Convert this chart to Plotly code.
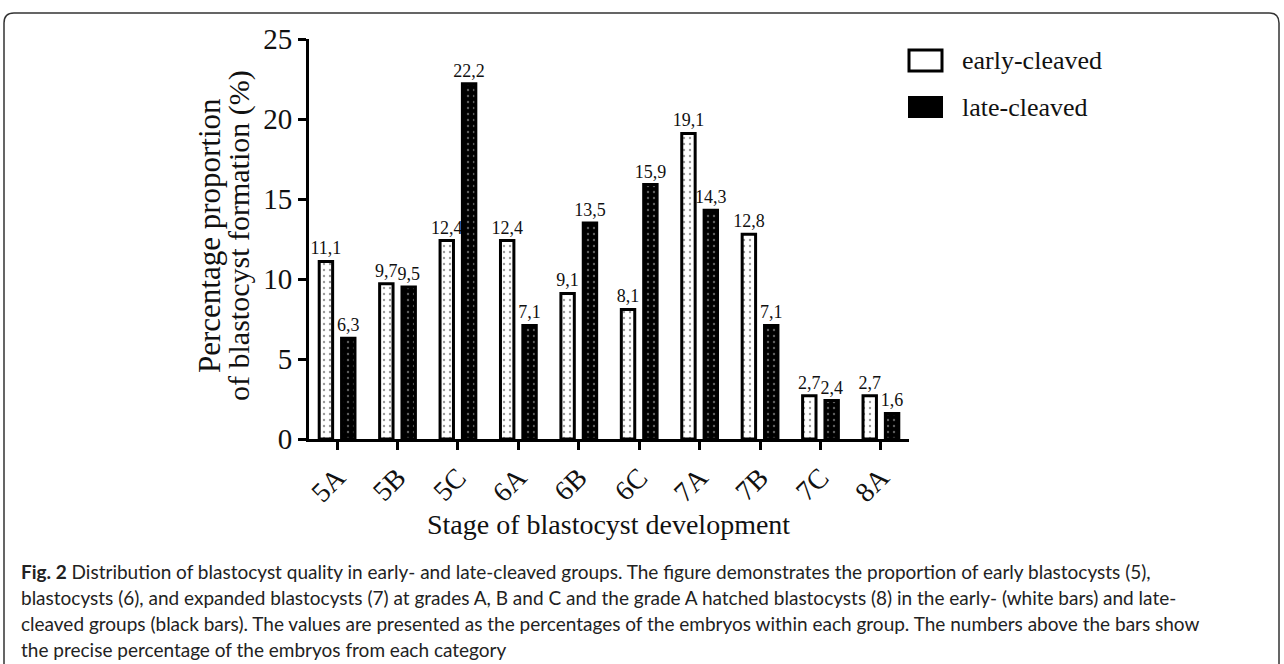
import plotly.graph_objects as go

# ---- data ----
categories = ["5A", "5B", "5C", "6A", "6B", "6C", "7A", "7B", "7C", "8A"]
early_cleaved = [11.1, 9.7, 12.4, 12.4, 9.1, 8.1, 19.1, 12.8, 2.7, 2.7]
late_cleaved = [6.3, 9.5, 22.2, 7.1, 13.5, 15.9, 14.3, 7.1, 2.4, 1.6]
series_names = ["early-cleaved", "late-cleaved"]
y_ticks = [0, 5, 10, 15, 20, 25]
x_title = "Stage of blastocyst development"
y_title_lines = ["Percentage proportion", "of blastocyst formation (%)"]
caption_lines = [
    "<b>Fig. 2</b> Distribution of blastocyst quality in early- and late-cleaved groups. The figure demonstrates the proportion of early blastocysts (5),",
    "blastocysts (6), and expanded blastocysts (7) at grades A, B and C and the grade A hatched blastocysts (8) in the early- (white bars) and late-",
    "cleaved groups (black bars). The values are presented as the percentages of the embryos within each group. The numbers above the bars show",
    "the precise percentage of the embryos from each category",
]

# ---- layout geometry (pixels) ----
W, H = 1284, 664
L, RGT, T, B = 309, 909, 39, 439


def xp(px):
    return (px - L) / (RGT - L)


def yp(py):
    return (B - py) / (B - T)


SERIF = "Liberation Serif, Times New Roman, serif"
SANS = "Lato, Open Sans, sans-serif"

fig = go.Figure()
fig.add_bar(
    x=categories, y=early_cleaved, name=series_names[0],
    marker=dict(color="white", line=dict(color="black", width=3),
                pattern=dict(shape=".", fgcolor="#333", bgcolor="white", size=6, solidity=0.12)),
    texttemplate="%{y:.1f}", textposition="outside", constraintext="none", cliponaxis=False,
    textfont=dict(family=SERIF, size=18, color="#111"),
)
fig.add_bar(
    x=categories, y=late_cleaved, name=series_names[1],
    marker=dict(color="black", line=dict(color="black", width=3),
                pattern=dict(shape=".", fgcolor="#bbb", bgcolor="black", size=6, solidity=0.12)),
    texttemplate="%{y:.1f}", textposition="outside", constraintext="none", cliponaxis=False,
    textfont=dict(family=SERIF, size=18, color="#111"),
)

annotations = []
# y title (two tight lines)
annotations.append(dict(text=y_title_lines[0], textangle=-90, x=xp(209), y=yp(236), xref="paper", yref="paper",
                        xanchor="center", yanchor="middle", showarrow=False,
                        font=dict(family=SERIF, size=31, color="#111")))
annotations.append(dict(text=y_title_lines[1], textangle=-90, x=xp(239), y=yp(236), xref="paper", yref="paper",
                        xanchor="center", yanchor="middle", showarrow=False,
                        font=dict(family=SERIF, size=30, color="#111")))
# x title
annotations.append(dict(text=x_title, x=xp(608), y=yp(524), xref="paper", yref="paper",
                        xanchor="center", yanchor="middle", showarrow=False,
                        font=dict(family=SERIF, size=28, color="#111")))
# legend text
annotations.append(dict(text=series_names[0], x=xp(960), y=yp(60), xref="paper", yref="paper",
                        xanchor="left", yanchor="middle", showarrow=False,
                        font=dict(family=SERIF, size=26, color="#111")))
annotations.append(dict(text=series_names[1], x=xp(960), y=yp(107), xref="paper", yref="paper",
                        xanchor="left", yanchor="middle", showarrow=False,
                        font=dict(family=SERIF, size=26, color="#111")))
# caption
cap_y = [571, 597, 623, 649]
for line, cy in zip(caption_lines, cap_y):
    annotations.append(dict(text=line, x=xp(19), y=yp(cy), xref="paper", yref="paper",
                            xanchor="left", yanchor="middle", showarrow=False,
                            font=dict(family=SANS, size=19, color="#222")))

shapes = []
# legend swatches
shapes.append(dict(type="rect", xref="paper", yref="paper", x0=xp(909), x1=xp(942), y0=yp(50), y1=yp(71),
                   line=dict(color="black", width=3), fillcolor="white"))
shapes.append(dict(type="rect", xref="paper", yref="paper", x0=xp(909), x1=xp(942), y0=yp(97), y1=yp(117),
                   line=dict(color="black", width=2), fillcolor="black"))
# rounded outer frame
r = 10
bx0, bx1, by0, by1 = 4, 1279, 13, 720
path = (f"M {xp(bx0)},{yp(by1)} L {xp(bx0)},{yp(by0 + r)} Q {xp(bx0)},{yp(by0)} {xp(bx0 + r)},{yp(by0)} "
        f"L {xp(bx1 - r)},{yp(by0)} Q {xp(bx1)},{yp(by0)} {xp(bx1)},{yp(by0 + r)} L {xp(bx1)},{yp(by1)}")
shapes.append(dict(type="path", xref="paper", yref="paper", path=path, line=dict(color="#333", width=1.5)))

fig.update_layout(
    width=W, height=H, autosize=False,
    margin=dict(l=L, r=W - RGT, t=T, b=H - B, pad=0),
    paper_bgcolor="white", plot_bgcolor="white",
    barmode="group", bargap=0.26, bargroupgap=0.4,
    separators=",.",
    showlegend=False,
    annotations=annotations, shapes=shapes,
    xaxis=dict(range=[-0.465, 9.465], showline=True, linecolor="black", linewidth=3,
               ticks="outside", ticklen=8, tickwidth=3, tickcolor="black",
               tickangle=-45, tickfont=dict(family=SERIF, size=28, color="#111"),
               showgrid=False, zeroline=False, fixedrange=True),
    yaxis=dict(range=[0, 25], tickvals=y_ticks, showline=True, linecolor="black", linewidth=3,
               ticks="outside", ticklen=8, tickwidth=3, tickcolor="black",
               tickfont=dict(family=SERIF, size=29, color="#111"),
               showgrid=False, zeroline=False, fixedrange=True),
)

fig.write_html("out.html", config={"displayModeBar": False},
               post_script="document.body.style.margin='0px';document.body.style.padding='0px';"
                           "document.body.style.overflow='hidden';")
